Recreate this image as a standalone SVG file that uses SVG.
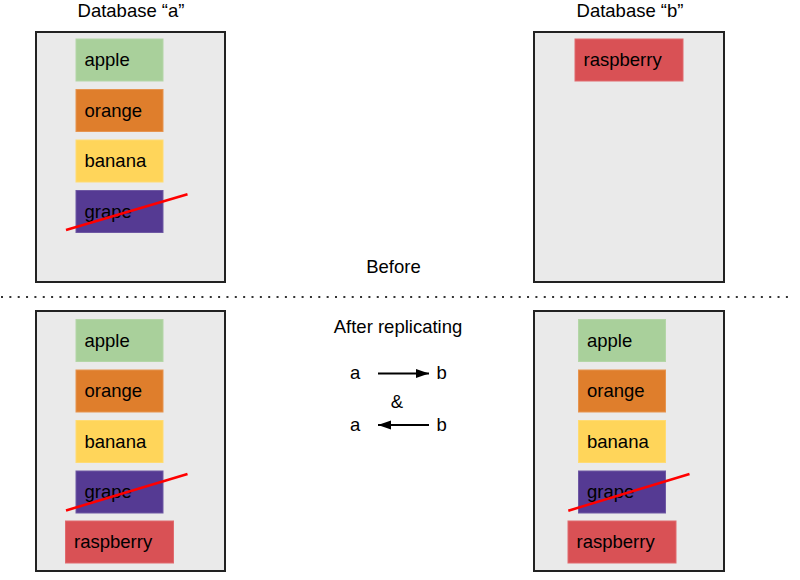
<svg xmlns="http://www.w3.org/2000/svg" width="800" height="580" viewBox="0 0 800 580">
  <defs>
    <style>
      text { font-family: "Liberation Sans", Arial, sans-serif; font-size: 18.5px; fill: #000; }
      .db { fill: #eaeaea; stroke: #222; stroke-width: 2; }
      .apple { fill: #a9d09b; stroke: #b4d6a7; stroke-width: 1; }
      .orange { fill: #df7e2c; stroke: #e6944f; stroke-width: 1; }
      .banana { fill: #ffd55a; stroke: #ffdb73; stroke-width: 1; }
      .grape { fill: #553a93; stroke: #6e58a3; stroke-width: 1; }
      .rasp { fill: #d95155; stroke: #e06a6e; stroke-width: 1; }
      .strike { stroke: #ff0000; stroke-width: 2.5; }
      .arrow { stroke: #000; stroke-width: 2; fill: none; }
      .sep { stroke: #333; stroke-width: 2; stroke-dasharray: 2 6.35; }
    </style>
    <marker id="head" markerUnits="userSpaceOnUse" markerWidth="14" markerHeight="10" refX="13" refY="5" orient="auto">
      <path d="M0,0.5 L13,5 L0,9.5 Z" fill="#000"/>
    </marker>
  </defs>

  <!-- Titles and labels -->
  <text x="131" y="17" text-anchor="middle">Database “a”</text>
  <text x="630" y="17" text-anchor="middle">Database “b”</text>
  <text x="393.5" y="273" text-anchor="middle">Before</text>
  <line class="sep" x1="1" y1="297" x2="790" y2="297"/>
  <text x="398" y="333" text-anchor="middle">After replicating</text>

  <!-- Before: Database a -->
  <g id="db-a-before">
    <rect class="db" x="36" y="32" width="189" height="250"/>
    <g id="a1-apple"><rect class="apple" x="76" y="39" width="87" height="42"/><text x="84.5" y="66">apple</text></g>
    <g id="a1-orange"><rect class="orange" x="76" y="89.5" width="87" height="42"/><text x="84.5" y="116.5">orange</text></g>
    <g id="a1-banana"><rect class="banana" x="76" y="140" width="87" height="42"/><text x="84.5" y="167">banana</text></g>
    <g id="a1-grape"><rect class="grape" x="76" y="190.5" width="87" height="42"/><text x="84.5" y="217.5">grape</text>
      <line class="strike" x1="66" y1="230" x2="187.5" y2="194.3"/></g>
  </g>

  <!-- Before: Database b -->
  <g id="db-b-before">
    <rect class="db" x="534" y="32" width="190" height="250"/>
    <g id="b1-rasp"><rect class="rasp" x="575" y="39" width="108" height="42"/><text x="583.5" y="66">raspberry</text></g>
  </g>

  <!-- After: Database a -->
  <g id="db-a-after">
    <rect class="db" x="36" y="311" width="189" height="260"/>
    <g id="a2-apple"><rect class="apple" x="76" y="319.5" width="87" height="42"/><text x="84.5" y="346.5">apple</text></g>
    <g id="a2-orange"><rect class="orange" x="76" y="370" width="87" height="42"/><text x="84.5" y="397">orange</text></g>
    <g id="a2-banana"><rect class="banana" x="76" y="420.5" width="87" height="42"/><text x="84.5" y="447.5">banana</text></g>
    <g id="a2-grape"><rect class="grape" x="76" y="471" width="87" height="42"/><text x="84.5" y="498">grape</text>
      <line class="strike" x1="66" y1="510.5" x2="187.5" y2="474"/></g>
    <g id="a2-rasp"><rect class="rasp" x="65.5" y="521" width="108" height="42"/><text x="74" y="548">raspberry</text></g>
  </g>

  <!-- After: Database b -->
  <g id="db-b-after">
    <rect class="db" x="534" y="311" width="190" height="260"/>
    <g id="b2-apple"><rect class="apple" x="578.5" y="319.5" width="87" height="42"/><text x="587" y="346.5">apple</text></g>
    <g id="b2-orange"><rect class="orange" x="578.5" y="370" width="87" height="42"/><text x="587" y="397">orange</text></g>
    <g id="b2-banana"><rect class="banana" x="578.5" y="420.5" width="87" height="42"/><text x="587" y="447.5">banana</text></g>
    <g id="b2-grape"><rect class="grape" x="578.5" y="471" width="87" height="42"/><text x="587" y="498">grape</text>
      <line class="strike" x1="568.3" y1="510.7" x2="689.5" y2="474"/></g>
    <g id="b2-rasp"><rect class="rasp" x="568" y="521" width="108" height="42"/><text x="576.5" y="548">raspberry</text></g>
  </g>

  <!-- Replication legend -->
  <g id="legend">
    <text x="350" y="379">a</text>
    <text x="436.5" y="379">b</text>
    <text x="397" y="407.5" text-anchor="middle">&amp;</text>
    <text x="350" y="431">a</text>
    <text x="436.5" y="431">b</text>
  </g>
  <g id="connectors">
    <line class="arrow" x1="378" y1="373.5" x2="429" y2="373.5" marker-end="url(#head)"/>
    <line class="arrow" x1="429" y1="425" x2="378" y2="425" marker-end="url(#head)"/>
  </g>
</svg>
